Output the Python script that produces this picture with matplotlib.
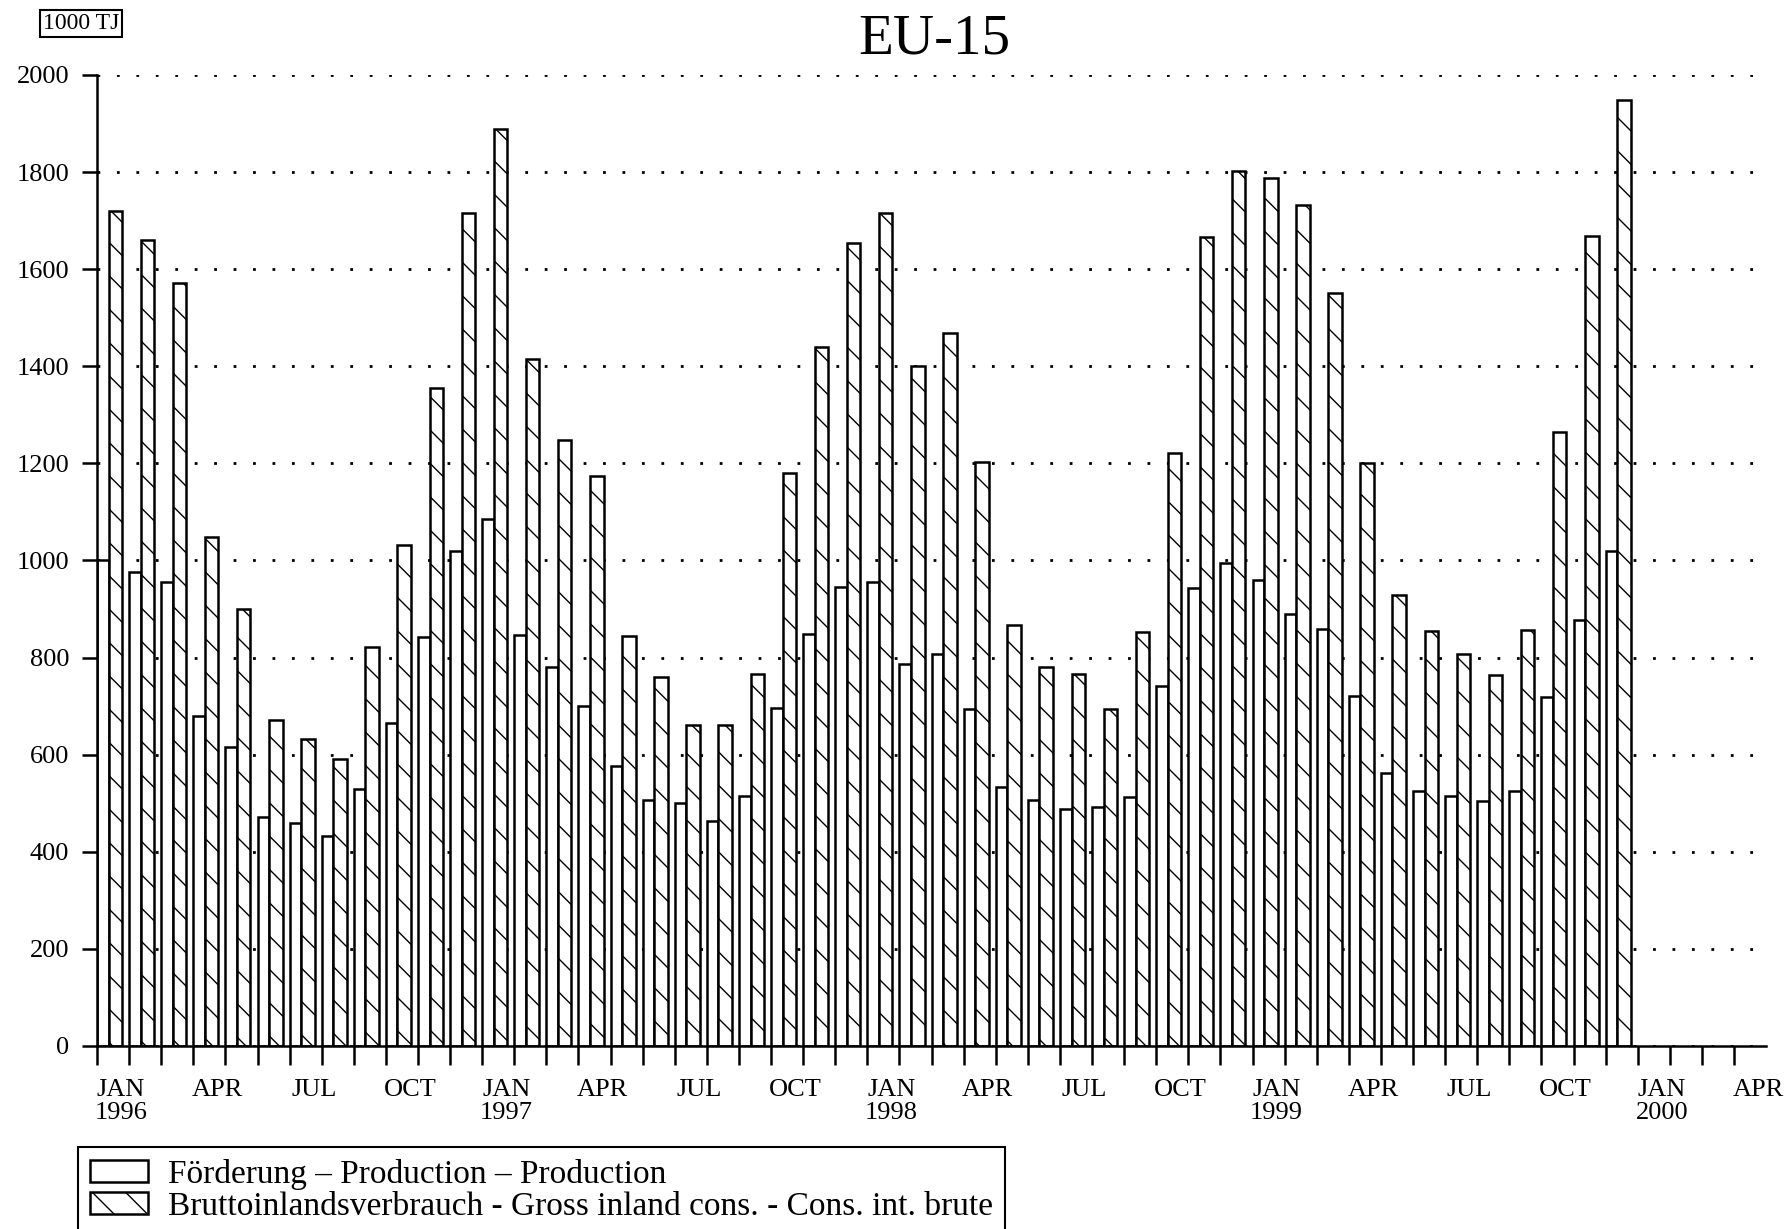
import numpy as np
import matplotlib.pyplot as plt

# monthly values, 1000 TJ, Jan 1996 - Dec 1999
production = [
    1000, 976, 955, 680, 616, 471, 459, 433, 529, 666, 842, 1019,   # 1996
    1085, 847, 781, 701, 576, 506, 501, 464, 515, 696, 849, 946,    # 1997
    955, 786, 807, 694, 534, 506, 487, 492, 513, 741, 944, 995,     # 1998
    960, 889, 859, 720, 562, 525, 515, 504, 525, 718, 878, 1019,    # 1999
]
consumption = [
    1720, 1661, 1572, 1049, 899, 671, 633, 591, 821, 1031, 1355, 1715,
    1889, 1414, 1249, 1174, 845, 760, 661, 661, 767, 1181, 1440, 1654,
    1715, 1400, 1468, 1202, 866, 781, 767, 694, 852, 1221, 1666, 1802,
    1788, 1732, 1551, 1200, 929, 854, 807, 765, 856, 1264, 1668, 1948,
]
month_names = ["JAN", "APR", "JUL", "OCT"]
years = [1996, 1997, 1998, 1999, 2000]
n_slots = 52  # axis runs through APR 2000

prod_label = "Förderung – Production – Production"
cons_label = "Bruttoinlandsverbrauch - Gross inland cons. - Cons. int. brute"

plt.rcParams['font.family'] = ['Liberation Serif', 'DejaVu Serif']
plt.rcParams['hatch.linewidth'] = 1.0

fig = plt.figure(figsize=(17.87, 12.29), dpi=100)
ax = fig.add_axes([0.0543, 0.149, 0.934, 0.790])

x = np.arange(len(production))
ax.bar(x, production, width=0.36, align='edge', color='white',
       edgecolor='black', linewidth=1.8, label=prod_label)
ax.bar(x + 0.36, consumption, width=0.42, align='edge', color='white',
       edgecolor='black', linewidth=1.8, hatch='\\', label=cons_label)

ax.set_xlim(0, n_slots)
ax.set_ylim(0, 2000)

for s in ['top', 'right']:
    ax.spines[s].set_visible(False)
for s in ['left', 'bottom']:
    ax.spines[s].set_linewidth(1.8)

ax.set_yticks(range(0, 2001, 200))
ax.tick_params(axis='y', length=11, width=1.8, labelsize=19, pad=9)
ax.set_axisbelow(True)
ax.yaxis.grid(True, linestyle=(0, (1, 6)), linewidth=2, color='black')

# month ticks
ax.set_xticks(range(n_slots))
ax.set_xticklabels([])
ax.tick_params(axis='x', which='major', length=14, width=1.8)

# quarter labels
pos, labs = [], []
for m in range(0, n_slots, 3):
    name = month_names[(m % 12) // 3]
    if m % 12 == 0:
        name = name + "\n" + str(years[m // 12])
    pos.append(m + 0.75)
    labs.append(name)
ax.set_xticks(pos, minor=True)
ax.set_xticklabels(labs, minor=True, va='top', linespacing=1.05)
ax.tick_params(axis='x', which='minor', length=0, labelsize=19, pad=24)

fig.text(0.523, 0.968, "EU-15", ha='center', va='center', fontsize=41)
fig.text(0.0455, 0.981, "1000 TJ", ha='center', va='center', fontsize=17,
         bbox=dict(boxstyle='square,pad=0.12', fc='white', ec='black', lw=1.5))

leg = fig.legend(loc='upper left', bbox_to_anchor=(0.0436, 0.0667), fontsize=24,
                 frameon=True, fancybox=False, edgecolor='black', framealpha=1,
                 borderaxespad=0, borderpad=0.35, labelspacing=0.05,
                 handlelength=1.75, handleheight=0.65, handletextpad=0.6)
leg.get_frame().set_linewidth(1.5)

fig.savefig("out.png", dpi=100)
